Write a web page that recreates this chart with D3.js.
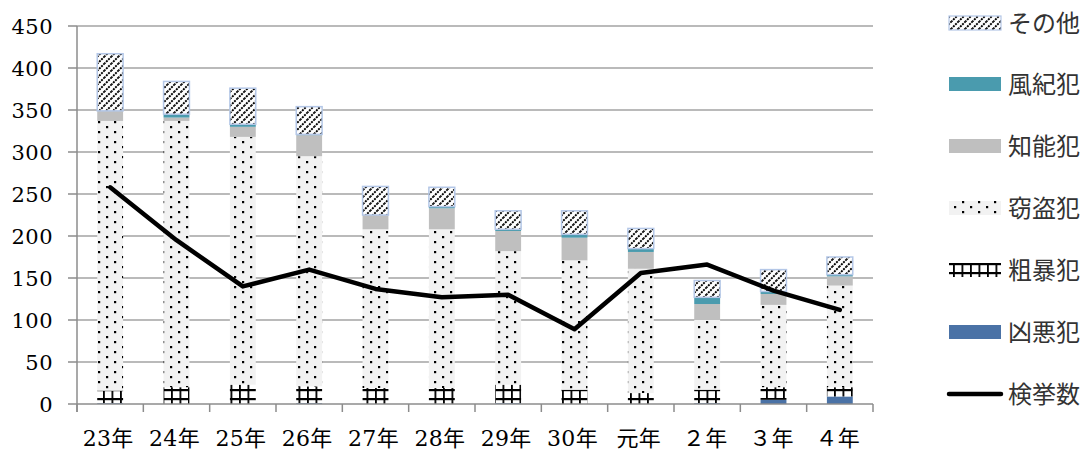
<!DOCTYPE html>
<html>
<head>
<meta charset="utf-8">
<script src="https://cdn.jsdelivr.net/npm/d3@7"></script>
<style>
  html, body { margin: 0; padding: 0; background: #fff; }
  svg { display: block; }
</style>
</head>
<body>
<svg id="chart" width="1089" height="454"></svg>
<script>
const categories = ["23年", "24年", "25年", "26年", "27年", "28年", "29年", "30年", "元年", "２年", "３年", "４年"];
const kyoaku  = [1, 0, 0, 1, 0, 0, 1, 0, 0, 1, 5, 9];          // 凶悪犯
const sobou   = [15, 20, 23, 20, 19, 19, 22, 17, 13, 16, 15, 11]; // 粗暴犯
const settou  = [321, 317, 295, 274, 189, 189, 159, 154, 148, 83, 98, 121]; // 窃盗犯
const chinou  = [12, 4, 12, 25, 17, 25, 24, 27, 20, 19, 13, 11];  // 知能犯
const fuuki   = [0, 4, 3, 1, 0, 2, 2, 4, 4, 8, 3, 2];             // 風紀犯
const sonota  = [68, 39, 43, 33, 34, 23, 22, 28, 24, 20, 26, 21]; // その他
const kenkyo  = [258, 195, 140, 160, 137, 127, 130, 89, 156, 166, 135, 112]; // 検挙数
const yTicks  = [0, 50, 100, 150, 200, 250, 300, 350, 400, 450];

const seriesNames = ["凶悪犯", "粗暴犯", "窃盗犯", "知能犯", "風紀犯", "その他"];
const seriesValues = [kyoaku, sobou, settou, chinou, fuuki, sonota];
const legendOrder = ["その他", "風紀犯", "知能犯", "窃盗犯", "粗暴犯", "凶悪犯"];

const svg = d3.select("#chart");
const defs = svg.append("defs");

// patterns
const pDots = defs.append("pattern").attr("id", "p-dots").attr("patternUnits", "userSpaceOnUse")
  .attr("width", 16).attr("height", 10);
pDots.append("rect").attr("width", 16).attr("height", 10).attr("fill", "#f2f2f2");
pDots.append("rect").attr("x", 2).attr("y", 1).attr("width", 2.2).attr("height", 2.2).attr("fill", "#000");
pDots.append("rect").attr("x", 10).attr("y", 6).attr("width", 2.2).attr("height", 2.2).attr("fill", "#000");

const pGrid = defs.append("pattern").attr("id", "p-grid").attr("patternUnits", "userSpaceOnUse")
  .attr("width", 8.5).attr("height", 9).attr("patternTransform", "translate(1,2)");
pGrid.append("rect").attr("width", 8.5).attr("height", 9).attr("fill", "#fff");
pGrid.append("rect").attr("x", 0).attr("y", 0).attr("width", 1.8).attr("height", 9).attr("fill", "#000");
pGrid.append("rect").attr("x", 0).attr("y", 0).attr("width", 8.5).attr("height", 2.2).attr("fill", "#000");

const pHatch = defs.append("pattern").attr("id", "p-hatch").attr("patternUnits", "userSpaceOnUse")
  .attr("width", 7).attr("height", 7);
pHatch.append("rect").attr("width", 7).attr("height", 7).attr("fill", "#fff");
pHatch.append("path").attr("d", "M-1,8 L8,-1 M-1,1 L1,-1 M6,8 L8,6")
  .attr("stroke", "#000").attr("stroke-width", 1.9).attr("stroke-dasharray", "2 1");

const fills = {
  "凶悪犯": "#4a72a6",
  "粗暴犯": "url(#p-grid)",
  "窃盗犯": "url(#p-dots)",
  "知能犯": "#bfbfbf",
  "風紀犯": "#4a9bae",
  "その他": "url(#p-hatch)"
};

const x = d3.scaleBand().domain(categories).range([77, 873]).paddingInner(0.61).paddingOuter(0.305);
const y = d3.scaleLinear().domain([0, 450]).range([404, 26]);

// gridlines
svg.append("g").selectAll("line").data(yTicks.filter(d => d > 0)).join("line")
  .attr("x1", 77).attr("x2", 873)
  .attr("y1", d => y(d)).attr("y2", d => y(d))
  .attr("stroke", "#a3a3a3").attr("stroke-width", 1.5);

// stacked data
const table = categories.map((c, i) => {
  const o = { cat: c };
  seriesNames.forEach((s, k) => o[s] = seriesValues[k][i]);
  return o;
});
const stacked = d3.stack().keys(seriesNames)(table);

const gBars = svg.append("g");
stacked.forEach(layer => {
  const key = layer.key;
  gBars.append("g").selectAll("rect").data(layer).join("rect")
    .attr("x", d => x(d.data.cat))
    .attr("width", x.bandwidth())
    .attr("y", d => y(d[1]))
    .attr("height", d => Math.max(0, y(d[0]) - y(d[1])))
    .attr("fill", fills[key])
    .attr("stroke", key === "その他" ? "#b4c7e7" : "none")
    .attr("stroke-width", key === "その他" ? 1.5 : 0);
});

// axes
const axisColor = "#8c8c8c";
svg.append("line").attr("x1", 77).attr("x2", 77).attr("y1", y(450)).attr("y2", 412)
  .attr("stroke", axisColor).attr("stroke-width", 1.5);
svg.append("line").attr("x1", 77).attr("x2", 873).attr("y1", 404).attr("y2", 404)
  .attr("stroke", axisColor).attr("stroke-width", 1.5);
svg.append("g").selectAll("line").data(yTicks).join("line")
  .attr("x1", 68).attr("x2", 77).attr("y1", d => y(d)).attr("y2", d => y(d))
  .attr("stroke", axisColor).attr("stroke-width", 1.5);
const step = x.step();
svg.append("g").selectAll("line").data(d3.range(categories.length + 1)).join("line")
  .attr("x1", i => 77 + i * step).attr("x2", i => 77 + i * step)
  .attr("y1", 404).attr("y2", 412)
  .attr("stroke", axisColor).attr("stroke-width", 1.5);

// y labels
svg.append("g").selectAll("text").data(yTicks).join("text")
  .attr("x", 53).attr("y", d => y(d))
  .attr("dy", "0.36em")
  .attr("text-anchor", "end")
  .attr("font-family", "'DejaVu Serif', serif")
  .attr("font-size", 21)
  .attr("letter-spacing", 0.5)
  .attr("fill", "#000")
  .text(d => d);

// x labels
svg.append("g").selectAll("text").data(categories).join("text")
  .attr("x", d => x(d) + x.bandwidth() / 2 - 2)
  .attr("y", 438)
  .attr("dy", "0.35em")
  .attr("text-anchor", "middle")
  .attr("font-family", "'DejaVu Serif', 'Noto Sans CJK JP', serif")
  .attr("font-size", 22)
  .attr("letter-spacing", 0.3)
  .attr("fill", "#000")
  .text(d => d);

// line
const line = d3.line()
  .x((d, i) => x(categories[i]) + x.bandwidth() / 2)
  .y(d => y(d));
svg.append("path").datum(kenkyo)
  .attr("d", line)
  .attr("fill", "none")
  .attr("stroke", "#000")
  .attr("stroke-width", 4.5)
  .attr("stroke-linejoin", "round")
  .attr("stroke-linecap", "round");

// legend
const legendY = [23, 84, 146, 208, 270, 332, 394];
const lg = svg.append("g");
legendOrder.forEach((name, i) => {
  const cy = legendY[i];
  lg.append("rect")
    .attr("x", 949).attr("y", cy - 7).attr("width", 52).attr("height", 14)
    .attr("fill", fills[name])
    .attr("stroke", name === "その他" ? "#b4c7e7" : "none")
    .attr("stroke-width", name === "その他" ? 1.2 : 0);
  lg.append("text")
    .attr("x", 1008).attr("y", cy).attr("dy", "0.36em")
    .attr("font-family", "'Noto Sans CJK JP', sans-serif")
    .attr("font-size", 24)
    .attr("fill", "#333")
    .text(name);
});
{
  const cy = legendY[6];
  lg.append("line").attr("x1", 949).attr("x2", 1001).attr("y1", cy).attr("y2", cy)
    .attr("stroke", "#000").attr("stroke-width", 4.5).attr("stroke-linecap", "round");
  lg.append("text")
    .attr("x", 1008).attr("y", cy).attr("dy", "0.36em")
    .attr("font-family", "'Noto Sans CJK JP', sans-serif")
    .attr("font-size", 24)
    .attr("fill", "#333")
    .text("検挙数");
}
</script>
</body>
</html>
